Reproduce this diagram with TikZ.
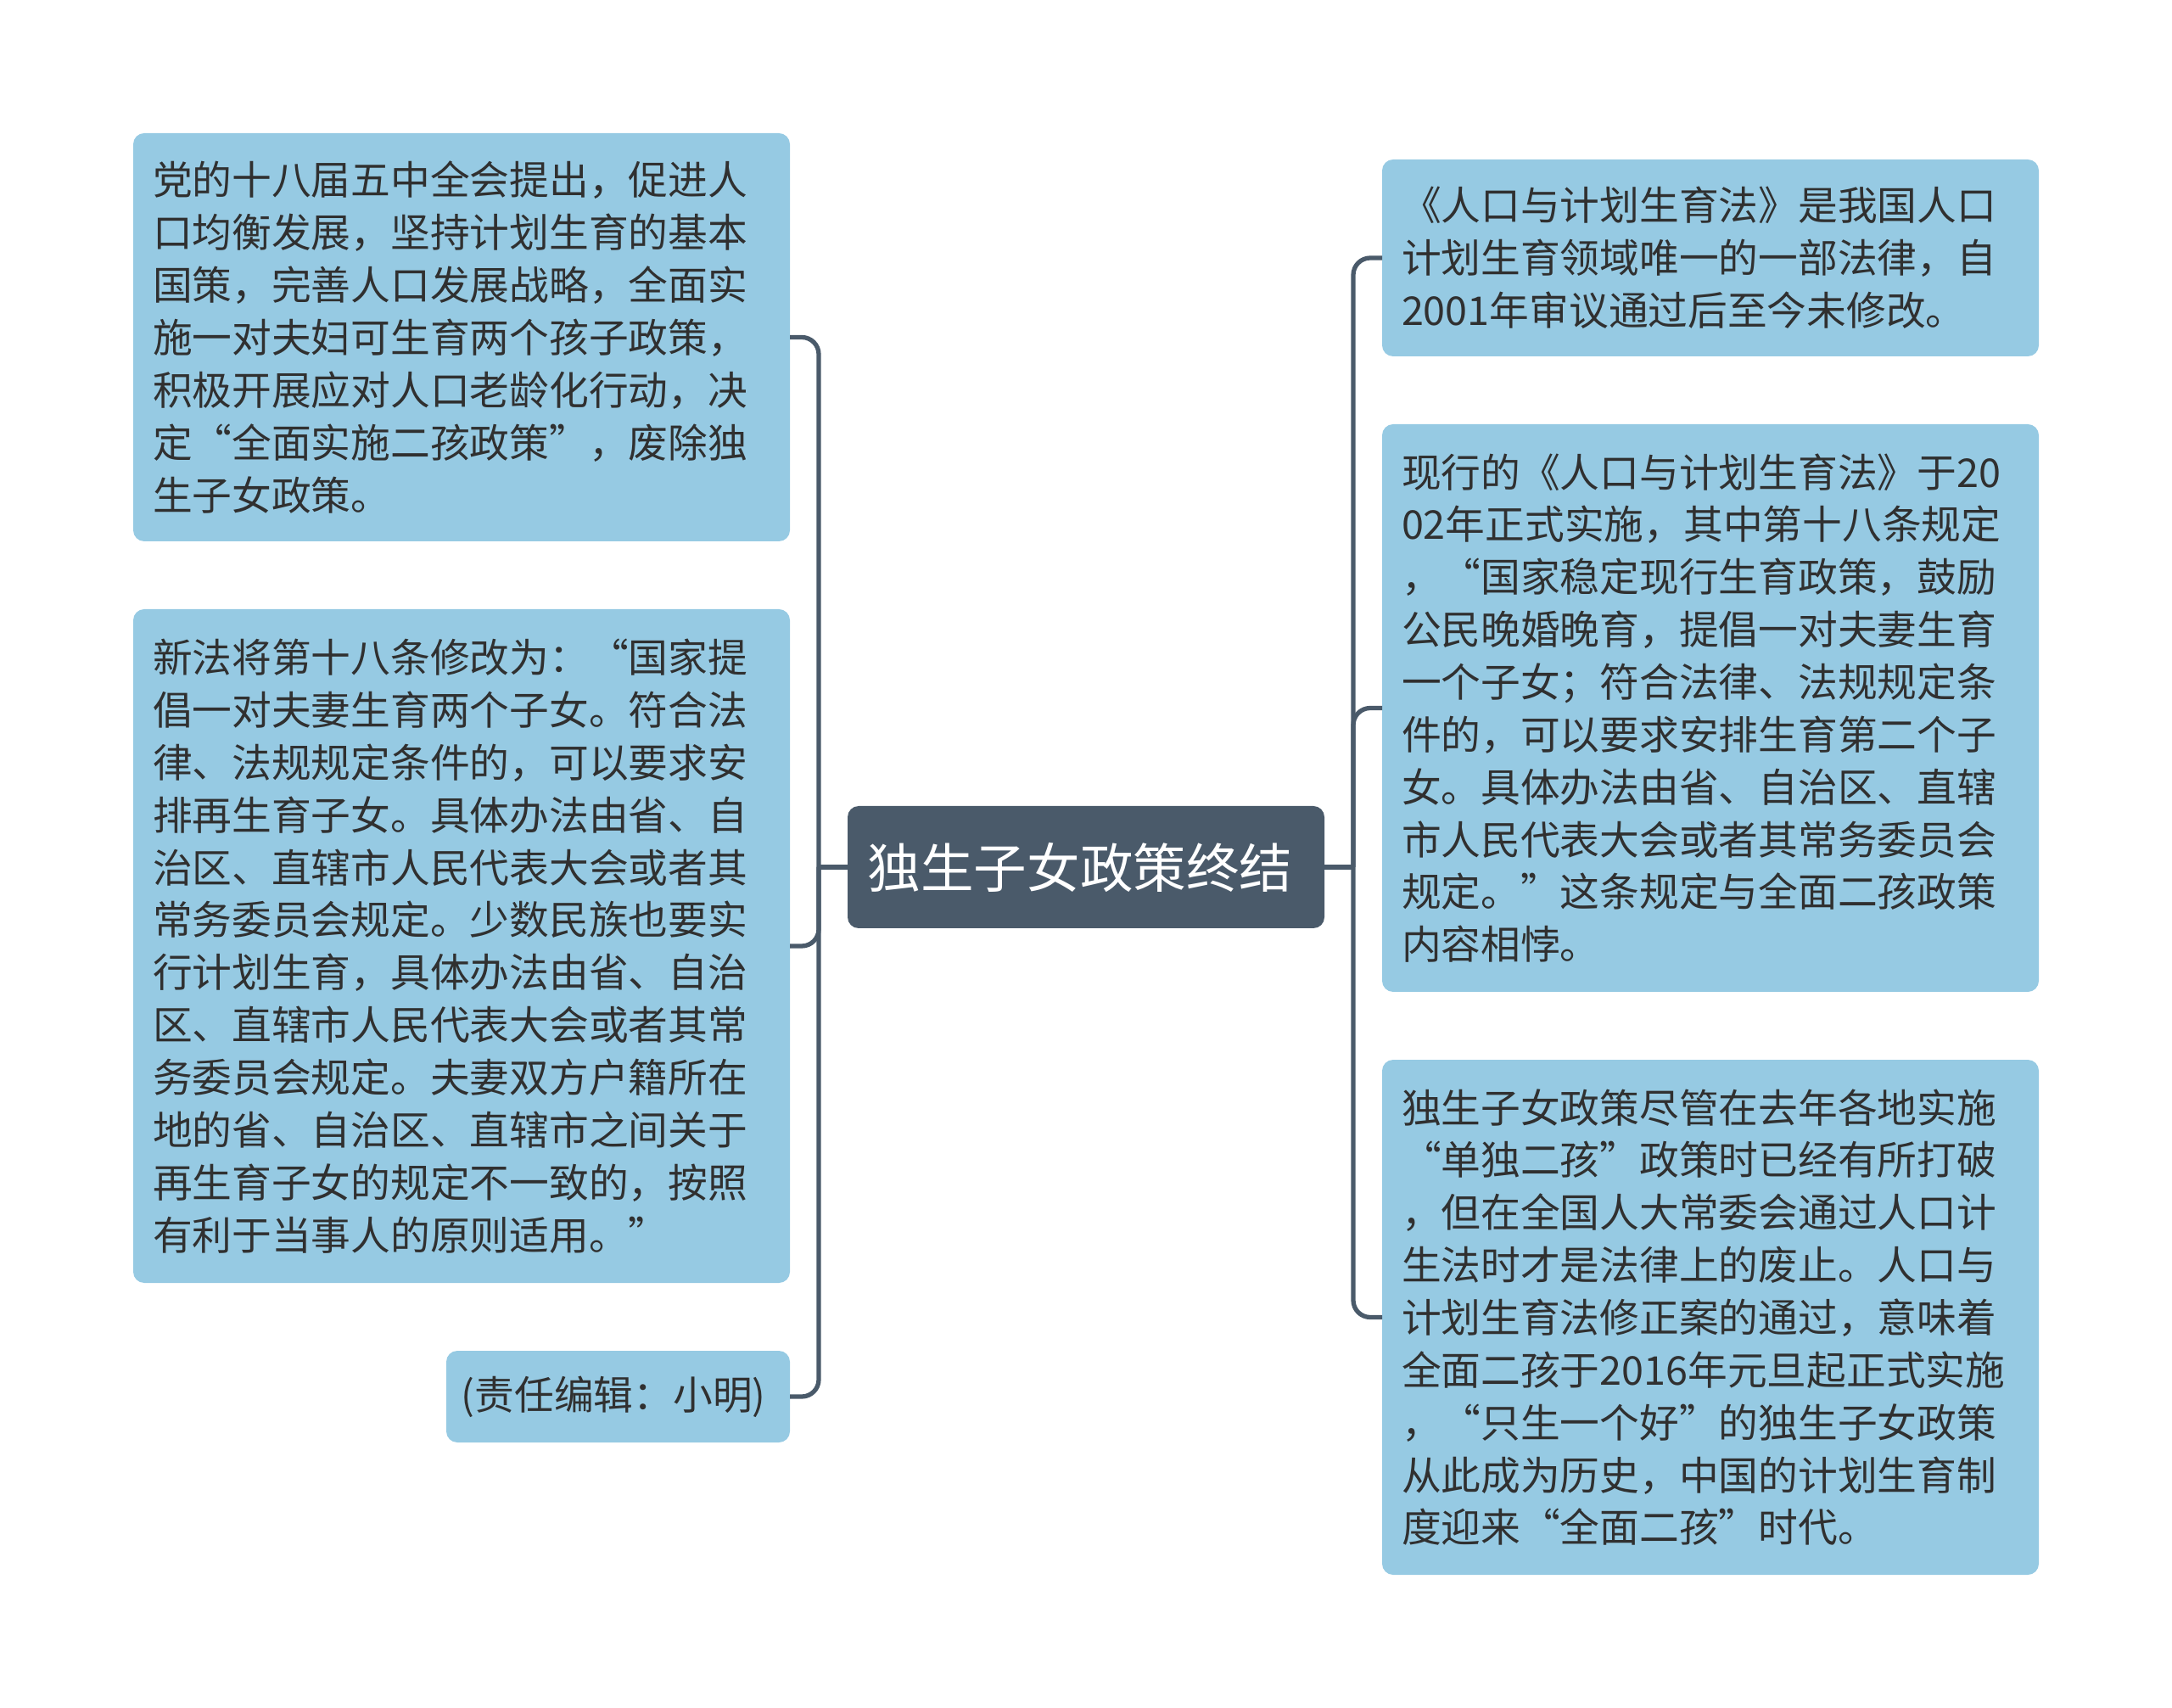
\documentclass[tikz,border=0pt]{standalone}
\usepackage{fontspec}
\setmainfont{Noto Sans CJK SC}
\usetikzlibrary{positioning}
\definecolor{leafblue}{HTML}{96CAE3}
\definecolor{slate}{HTML}{4A5A6A}
\definecolor{ink}{HTML}{303030}

\begin{document}
\begin{tikzpicture}[every node/.style={inner sep=0cm, outer sep=0cm, text opacity=1},
    leaf/.style={rectangle, rounded corners=0.13cm, fill=leafblue, text=ink, align=left, inner xsep=0.23cm, text width=7.28cm, minimum width=7.74cm, font=\fontsize{13.3}{17.6}\selectfont},
    mainbox/.style={rectangle, rounded corners=0.13cm, fill=slate, text=white, align=center, font=\fontsize{17.8}{22}\selectfont},
    link/.style={draw=slate, line width=1.5pt, rounded corners=0.2cm}]
    \useasboundingbox (0,0) rectangle (25.6,-20.13);

    \node (main) [mainbox, minimum width=5.62cm, minimum height=1.44cm] at (12.80,-10.22){
        独生子女政策终结
    };

    \node (law) [left=0.68cm of main, yshift=-0.93cm, leaf, minimum height=7.94cm]{
        新法将第十八条修改为：“国家提\\倡一对夫妻生育两个子女。符合法\\律、法规规定条件的，可以要求安\\排再生育子女。具体办法由省、自\\治区、直辖市人民代表大会或者其\\常务委员会规定。少数民族也要实\\行计划生育，具体办法由省、自治\\区、直辖市人民代表大会或者其常\\务委员会规定。夫妻双方户籍所在\\地的省、自治区、直辖市之间关于\\再生育子女的规定不一致的，按照\\有利于当事人的原则适用。”
    };
    \node (plenum) [above=0.8cm of law, leaf, minimum height=4.81cm]{
        党的十八届五中全会提出，促进人\\口均衡发展，坚持计划生育的基本\\国策，完善人口发展战略，全面实\\施一对夫妇可生育两个孩子政策，\\积极开展应对人口老龄化行动，决\\定“全面实施二孩政策”，废除独\\生子女政策。
    };
    \node (editor) [below=0.8cm of law.south east, anchor=north east, leaf, text width=, align=center, inner xsep=0.15cm, minimum width=4.05cm, minimum height=1.08cm]{
        (责任编辑：小明)
    };

    \node (current) [right=0.68cm of main, yshift=1.875cm, leaf, minimum height=6.69cm]{
        现行的《人口与计划生育法》于20\\02年正式实施，其中第十八条规定\\，“国家稳定现行生育政策，鼓励\\公民晚婚晚育，提倡一对夫妻生育\\一个子女；符合法律、法规规定条\\件的，可以要求安排生育第二个子\\女。具体办法由省、自治区、直辖\\市人民代表大会或者其常务委员会\\规定。”这条规定与全面二孩政策\\内容相悖。
    };
    \node (statute) [above=0.8cm of current, leaf, minimum height=2.32cm]{
        《人口与计划生育法》是我国人口\\计划生育领域唯一的一部法律，自\\2001年审议通过后至今未修改。
    };
    \node (history) [below=0.8cm of current, leaf, minimum height=6.07cm]{
        独生子女政策尽管在去年各地实施\\“单独二孩”政策时已经有所打破\\，但在全国人大常委会通过人口计\\生法时才是法律上的废止。人口与\\计划生育法修正案的通过，意味着\\全面二孩于2016年元旦起正式实施\\，“只生一个好”的独生子女政策\\从此成为历史，中国的计划生育制\\度迎来“全面二孩”时代。
    };

    \coordinate (lhub) at ([xshift=-0.34cm]main.west);
    \coordinate (rhub) at ([xshift=0.34cm]main.east);

    \path[link] (main.west) -- (lhub);
    \path[link] (lhub) |- (plenum.east);
    \path[link] (lhub) |- (law.east);
    \path[link] (lhub) |- (editor.east);

    \path[link] (main.east) -- (rhub);
    \path[link] (rhub) |- (statute.west);
    \path[link] (rhub) |- (current.west);
    \path[link] (rhub) |- (history.west);
\end{tikzpicture}
\end{document}
